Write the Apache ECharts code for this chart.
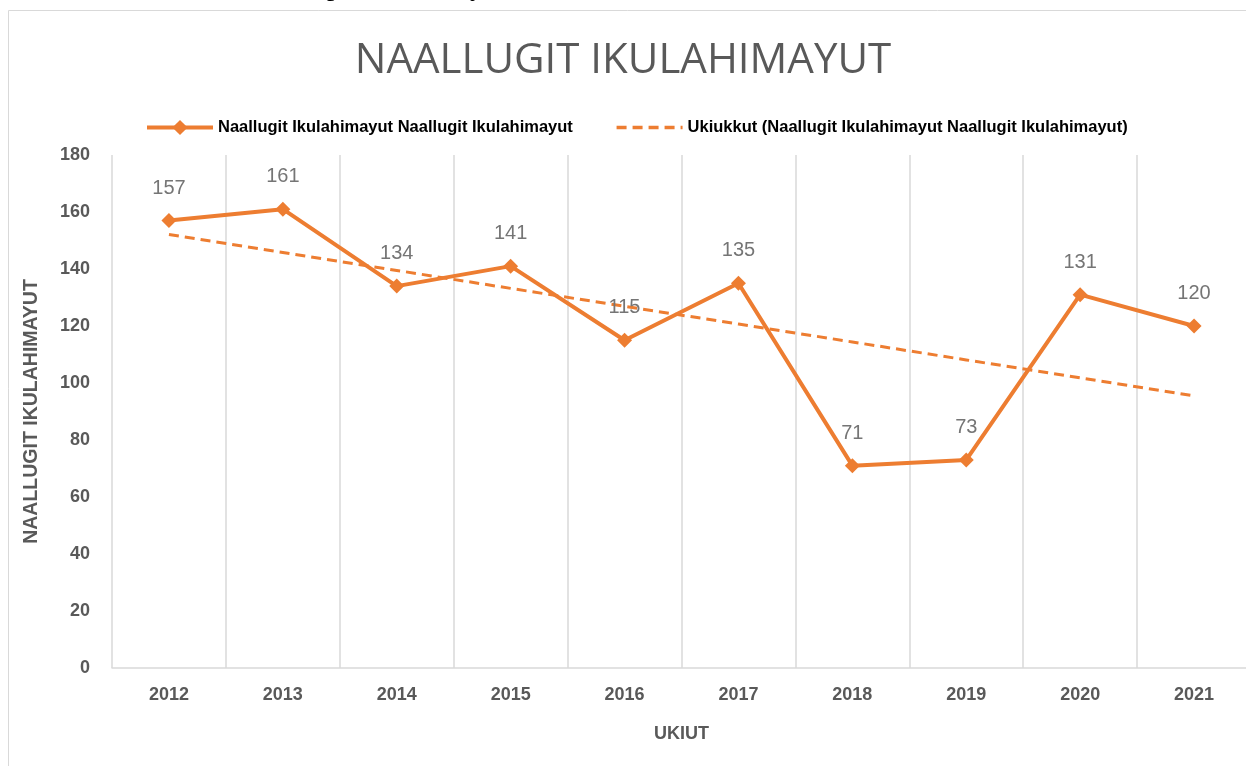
<!DOCTYPE html>
<html>
<head>
<meta charset="utf-8">
<script src="https://cdn.jsdelivr.net/npm/echarts@6/dist/echarts.min.js"></script>
<style>
  html, body { margin: 0; padding: 0; background: #fff; overflow: hidden; }
  #chart { width: 1246px; height: 766px; }
</style>
</head>
<body>
<div id="chart"></div>
<script>
// years on the x axis
const years = ["2012", "2013", "2014", "2015", "2016", "2017", "2018", "2019", "2020", "2021"];
// yearly totals
const totals = [157, 161, 134, 141, 115, 135, 71, 73, 131, 120];
// trend line
const trend = [152.1, 145.8, 139.5, 133.2, 126.9, 120.7, 114.4, 108.1, 101.8, 95.5];
// y ticks
const yTicks = { min: 0, max: 180, interval: 20 };

const seriesName = "Naallugit Ikulahimayut Naallugit Ikulahimayut";
const trendName = "Ukiukkut (Naallugit Ikulahimayut Naallugit Ikulahimayut)";
const orange = "#ed7d31";
const grey = "#595959";

const chart = echarts.init(document.getElementById("chart"));

const options = {
  animation: false,
  title: {
    text: "NAALLUGIT IKULAHIMAYUT",
    left: "center",
    top: 35,
    textStyle: {
      fontFamily: "Open Sans",
      fontSize: 42,
      fontWeight: "normal",
      color: grey,
    },
  },
  graphic: [
    // chart border
    {
      type: "rect",
      shape: { x: 8.5, y: 10.5, width: 1260, height: 780 },
      style: { fill: "none", stroke: "#d9d9d9", lineWidth: 1 },
      silent: true,
    },
    // text above the chart, cut off by the page edge
    {
      type: "text",
      x: 250,
      y: 2,
      style: {
        text: "Naallugit Ikulahimayut",
        font: "26px 'Liberation Sans'",
        fill: "#000",
        verticalAlign: "bottom",
      },
      silent: true,
    },
  ],
  legend: {
    left: 140,
    top: 114,
    itemWidth: 66,
    itemHeight: 19,
    itemGap: 42,
    textStyle: {
      fontFamily: "Liberation Sans",
      fontWeight: "bold",
      fontSize: 16.5,
      color: "#000",
    },
    data: [
      { name: seriesName, lineStyle: { width: 4 } },
      { name: trendName, itemStyle: { opacity: 0 }, lineStyle: { width: 3.5 } },
    ],
  },
  grid: {
    left: 112,
    top: 155,
    width: 1139,
    height: 513,
    outerBoundsMode: "none",
  },
  xAxis: {
    type: "category",
    data: years,
    name: "UKIUT",
    nameLocation: "middle",
    nameGap: 57,
    nameTextStyle: {
      fontFamily: "Liberation Sans",
      fontWeight: "bold",
      fontSize: 18,
      color: grey,
    },
    axisLine: { lineStyle: { color: "#d9d9d9", width: 1.5 } },
    axisTick: { show: false },
    axisLabel: {
      margin: 18,
      fontFamily: "Liberation Sans",
      fontWeight: "bold",
      fontSize: 18,
      color: grey,
    },
    splitLine: { show: true, lineStyle: { color: "#d9d9d9", width: 1.5 } },
  },
  yAxis: {
    type: "value",
    min: yTicks.min,
    max: yTicks.max,
    interval: yTicks.interval,
    name: "NAALLUGIT IKULAHIMAYUT",
    nameLocation: "middle",
    nameGap: 70,
    nameTextStyle: {
      fontFamily: "Liberation Sans",
      fontWeight: "bold",
      fontSize: 19.5,
      color: grey,
    },
    axisLine: { show: false },
    axisTick: { show: false },
    splitLine: { show: false },
    axisLabel: {
      margin: 22,
      fontFamily: "Liberation Sans",
      fontWeight: "bold",
      fontSize: 18,
      color: grey,
    },
  },
  series: [
    {
      name: seriesName,
      type: "line",
      data: totals,
      symbol: "diamond",
      symbolSize: 15,
      z: 3,
      lineStyle: { color: orange, width: 4 },
      itemStyle: { color: orange },
      label: {
        show: true,
        position: "top",
        distance: 15,
        fontFamily: "Liberation Sans",
        fontSize: 20,
        color: "#757575",
      },
    },
    {
      name: trendName,
      type: "line",
      data: trend,
      symbol: "none",
      z: 2,
      lineStyle: { color: orange, width: 3, type: [10, 6] },
      itemStyle: { color: orange },
    },
  ],
};

chart.setOption(options);
</script>
</body>
</html>
